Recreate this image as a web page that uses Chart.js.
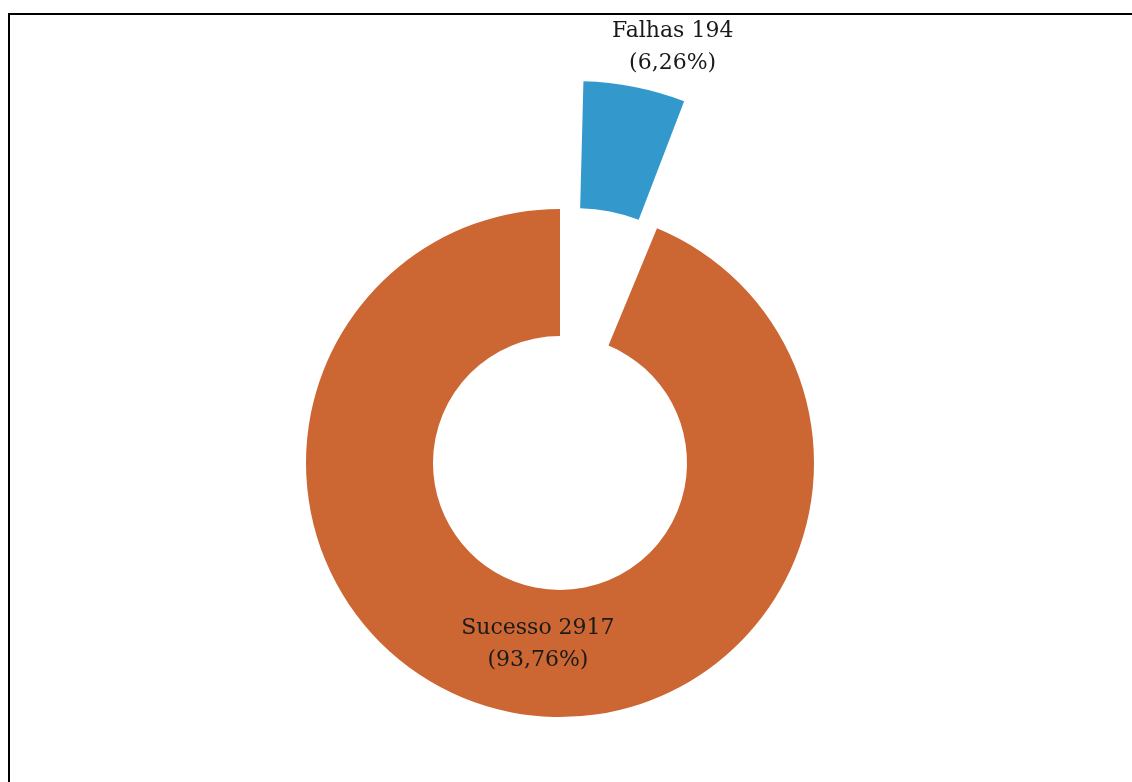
<!DOCTYPE html>
<html>
<head>
<meta charset="utf-8">
<script src="https://cdn.jsdelivr.net/npm/chart.js@4/dist/chart.umd.min.js"></script>
<style>
    html, body { margin: 0; padding: 0; background: #ffffff; }
    .frame {
        position: absolute; left: 8px; top: 13px; right: 0; bottom: 0;
        border-top: 2px solid #000; border-left: 2px solid #000;
    }
    .chart-box { position: absolute; left: 0; top: 0; width: 1132px; height: 782px; }
</style>
</head>
<body>
<div class="frame"></div>
<div class="chart-box"><canvas id="pieChart"></canvas></div>
<script>
// Dados do gráfico
const categorias = ['Falhas', 'Sucesso'];
const valores = [194, 2917];
const percentuais = ['6,26%', '93,76%'];
const cores = ['#3399cc', '#cc6633'];
const destaque = [320, 0];

// Rótulos de dados (nome + valor + percentual)
const rotulosPlugin = {
    id: 'rotulos',
    afterDatasetsDraw(chart) {
        const ctx = chart.ctx;
        const meta = chart.getDatasetMeta(0);
        ctx.save();
        ctx.font = '22px "DejaVu Serif", serif';
        ctx.fillStyle = '#1a1a1a';
        ctx.textAlign = 'center';
        ctx.textBaseline = 'middle';
        meta.data.forEach(function(arc, i) {
            const linha1 = categorias[i] + ' ' + valores[i];
            const linha2 = '(' + percentuais[i] + ')';
            let x, y;
            if (arc.options.offset > 0) {
                // fora da fatia destacada (mesmo deslocamento que o Chart.js usa ao desenhar)
                const meio = (arc.startAngle + arc.endAngle) / 2;
                const t = arc.options.offset / 4;
                const fix = 1 - Math.sin(Math.min(Math.PI, arc.circumference));
                const r = arc.outerRadius + t * fix + t;
                x = arc.x + Math.cos(meio) * r + 38;
                y = arc.y + Math.sin(meio) * r - 40;
            } else {
                const p = arc.getCenterPoint();
                x = p.x + 15;
                y = p.y - 6;
            }
            ctx.fillText(linha1, x, y - 16);
            ctx.fillText(linha2, x, y + 16);
        });
        ctx.restore();
    }
};

new Chart(document.getElementById('pieChart'), {
    type: 'doughnut',
    data: {
        labels: categorias,
        datasets: [{
            data: valores,
            backgroundColor: cores,
            borderWidth: 0,
            offset: destaque
        }]
    },
    options: {
        responsive: true,
        maintainAspectRatio: false,
        animation: false,
        radius: 254,
        cutout: '50%',
        layout: {
            padding: { top: 144, left: 0, right: 12, bottom: 0 }
        },
        plugins: {
            legend: { display: false },
            tooltip: { enabled: false }
        }
    },
    plugins: [rotulosPlugin]
});
</script>
</body>
</html>
